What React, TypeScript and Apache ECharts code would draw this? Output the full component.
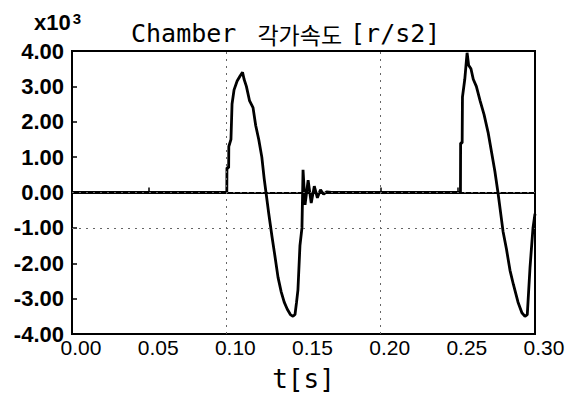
import React, { useEffect, useRef } from "react";
import * as echarts from "echarts";

// time [s]
const times = [
  0, 0.1003, 0.1004, 0.1015, 0.1016, 0.103, 0.1037, 0.105, 0.107, 0.109, 0.1105, 0.1115, 0.113, 0.115,
  0.1173, 0.119, 0.121, 0.123, 0.1245, 0.1257, 0.1275, 0.1296, 0.1315, 0.1335, 0.1355, 0.1375, 0.1395,
  0.1415, 0.1432, 0.1445, 0.1455, 0.1464, 0.1477, 0.149, 0.1497, 0.151, 0.153, 0.155, 0.157, 0.159,
  0.161, 0.163, 0.165, 0.168, 0.2517, 0.2518, 0.2528, 0.253, 0.2545, 0.2555, 0.256, 0.257, 0.2585, 0.26,
  0.262, 0.2644, 0.267, 0.2696, 0.272, 0.274, 0.276, 0.2775, 0.2793, 0.2815, 0.2838, 0.286, 0.289,
  0.2915, 0.2935, 0.295, 0.2968, 0.2987, 0.3,
];
// angular acceleration [x10^3 r/s2]
const accel = [
  0, 0, 0.7, 0.7, 1.3, 1.5, 2.5, 2.9, 3.15, 3.3, 3.4, 3.2, 3.0, 2.6,
  2.4, 1.9, 1.5, 1.0, 0.4, 0, -0.6, -1.25, -1.8, -2.4, -2.8, -3.1, -3.3,
  -3.45, -3.5, -3.45, -3.1, -2.75, -1.5, -1.0, 0.64, -0.35, 0.35, -0.3, 0.18, -0.15,
  0.08, -0.05, 0.02, 0, 0, 1.4, 1.4, 2.7, 3.2, 3.7, 3.95, 3.6, 3.5, 3.2,
  3.0, 2.6, 2.2, 1.7, 1.1, 0.6, 0, -0.5, -1.1, -1.6, -2.2, -2.6, -3.1,
  -3.4, -3.5, -3.45, -2.1, -1.0, -0.6,
];
const gridXValues = [0.1, 0.2];
const gridYValues = [0, -1];

export default function App() {
  const ref = useRef<HTMLDivElement>(null);
  useEffect(() => {
    const chart = echarts.init(ref.current!, null, { renderer: "svg" });
    const data = times.map((t, i) => [t, accel[i]]);
    chart.setOption({
      animation: false,
      backgroundColor: "#fff",
      title: {
        text: "{a|Chamber }{b|각가속도}{a|[r/s2]}",
        left: 126,
        top: 16,
        textStyle: {
          fontWeight: "normal",
          rich: {
            a: { fontFamily: "DejaVu Sans Mono", fontSize: 25, fontWeight: "normal", color: "#000" },
            b: { fontFamily: "Noto Sans CJK KR", fontSize: 23, fontWeight: "normal", color: "#000", padding: [0, 8, 0, 6] },
          },
        },
      },
      graphic: [
        {
          type: "text",
          left: 34,
          top: 11,
          style: {
            text: "{m|x10}{s|3}",
            rich: {
              m: { fontFamily: "Liberation Sans", fontWeight: "bold", fontSize: 22, fill: "#000" },
              s: { fontFamily: "Liberation Sans", fontWeight: "bold", fontSize: 15, fill: "#000", verticalAlign: "top", padding: [0, 0, 8, 2] },
            },
          },
        },
      ],
      grid: {
        left: 72,
        right: 35,
        top: 51,
        bottom: 63,
        show: true,
        borderColor: "#000",
        borderWidth: 2,
      },
      xAxis: {
        type: "value",
        min: 0,
        max: 0.3,
        interval: 0.05,
        name: "t[s]",
        nameLocation: "middle",
        nameGap: 32,
        nameTextStyle: { fontFamily: "DejaVu Sans Mono", fontSize: 26, color: "#000" },
        axisLine: { lineStyle: { color: "#000", width: 2 } },
        axisTick: { inside: true, length: 5, lineStyle: { color: "#000", width: 1.5 } },
        axisLabel: {
          formatter: (v: number) => v.toFixed(2),
          fontFamily: "Liberation Sans",
          fontSize: 21,
          color: "#000",
          margin: 3,
          padding: [0, 0, 0, 18],
        },
        splitLine: { show: false },
      },
      yAxis: {
        type: "value",
        min: -4,
        max: 4,
        interval: 1,
        axisLine: { lineStyle: { color: "#000", width: 2 } },
        axisTick: { inside: true, length: 5, lineStyle: { color: "#000", width: 1.5 } },
        axisLabel: {
          formatter: (v: number) => v.toFixed(2),
          fontFamily: "Liberation Sans",
          fontWeight: "bold",
          fontSize: 22,
          color: "#000",
          margin: 8,
        },
        splitLine: { show: false },
      },
      series: [
        {
          type: "line",
          data,
          showSymbol: false,
          lineStyle: { color: "#000", width: 2.8 },
          markLine: {
            silent: true,
            symbol: ["none", "none"],
            label: { show: false },
            lineStyle: { color: "#666", type: [2, 5], width: 1 },
            data: [
              ...gridXValues.map((x) => ({ xAxis: x })),
              ...gridYValues.map((y) => ({ yAxis: y })),
            ],
          },
        },
      ],
    });
    return () => chart.dispose();
  }, []);
  return <div ref={ref} style={{ width: 570, height: 397, position: "absolute", left: 0, top: 0 }} />;
}
